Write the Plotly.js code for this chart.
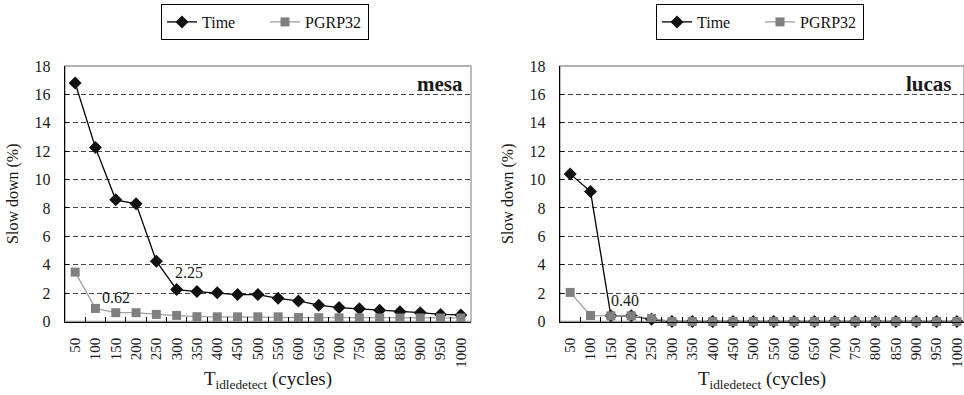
<!DOCTYPE html>
<html><head><meta charset="utf-8">
<script src="https://cdn.plot.ly/plotly-3.0.1.min.js"></script>
<style>body{margin:0;background:#fff}#c{width:964px;height:395px}</style>
</head><body><div id="c"></div>
<script>
const categories = ['50','100','150','200','250','300','350','400','450','500','550','600','650','700','750','800','850','900','950','1000'];
const mesaTime   = [16.8,12.25,8.57,8.29,4.25,2.25,2.11,2.02,1.9,1.9,1.63,1.45,1.15,0.98,0.9,0.8,0.69,0.62,0.5,0.46];
const mesaPGRP   = [3.48,0.92,0.62,0.62,0.5,0.43,0.34,0.33,0.33,0.33,0.33,0.28,0.27,0.26,0.26,0.25,0.25,0.25,0.25,0.25];
const lucasTime  = [10.4,9.15,0.40,0.40,0.15,0,0,0,0,0,0,0,0,0,0,0,0,0,0,0];
const lucasPGRP  = [2.05,0.42,0.40,0.40,0.22,0,0,0,0,0,0,0,0,0,0,0,0,0,0,0];
const seriesNames = ['Time','PGRP32'];
const panelNames = ['mesa','lucas'];

const FONT = 'Liberation Serif';
const TXT = '#1a1a1a';
const W = 964, H = 395;
const yDom = [(H-321.5)/H, (H-66)/H];

function mk(name, x, y, xa, ya, leg, black) {
  return {
    type:'scatter', mode:'lines+markers', name, x, y, xaxis:xa, yaxis:ya, legend:leg,
    line: black ? {color:'#000', width:1.3} : {color:'#a0a0a0', width:1.3},
    marker: black ? {symbol:'diamond', size:10, color:'#111'} : {symbol:'square', size:9, color:'#808080'},
    cliponaxis:false
  };
}
const data = [
  mk(seriesNames[0], categories, mesaTime, 'x', 'y', 'legend', true),
  mk(seriesNames[1], categories, mesaPGRP, 'x', 'y', 'legend', false),
  mk(seriesNames[0], categories, lucasTime, 'x2', 'y2', 'legend2', true),
  mk(seriesNames[1], categories, lucasPGRP, 'x2', 'y2', 'legend2', false)
];
function xax(dom, range) {
  return {domain:dom, type:'category', range:range, showline:true, linecolor:'#000', linewidth:1.3,
    ticks:'inside', ticklen:5, tickcolor:'#000', tickson:'boundaries', tickangle:-90,
    ticklabelstandoff:9, showgrid:false, zeroline:false, fixedrange:true,
    tickfont:{family:FONT, size:15, color:TXT},
    title:{text:'T<sub>idledetect</sub> (cycles)', font:{family:FONT, size:19, color:TXT}, standoff:5}};
}
function yax(anchor) {
  return {domain:yDom, anchor:anchor, range:[0,18], dtick:2, showline:true, linecolor:'#000', linewidth:1.3,
    ticks:'inside', ticklen:4, tickcolor:'#000', ticklabelstandoff:10,
    showgrid:true, gridcolor:'#444', gridwidth:1, griddash:'5px,3px', zeroline:false, fixedrange:true,
    tickfont:{family:FONT, size:16, color:TXT},
    title:{text:'Slow down (%)', font:{family:FONT, size:16, color:TXT}, standoff:12}};
}
const leftDom = [65/W, 471/W];
const rightDom = [560/W, 1];
const lab = {family:FONT, size:16, color:TXT};
const legendBase = {orientation:'h', xanchor:'left', y:1-4/H, yanchor:'top', bordercolor:'#000', borderwidth:1,
    entrywidth:58, font:{family:FONT, size:16, color:'#111'}, bgcolor:'#fff'};
const layout = {
  width:W, height:H, margin:{l:0,r:0,t:0,b:0}, paper_bgcolor:'#fff', plot_bgcolor:'#fff',
  font:{family:FONT, color:TXT}, showlegend:true,
  xaxis: Object.assign(xax(leftDom, [-0.5,19.5]), {anchor:'y'}),
  yaxis: yax('x'),
  xaxis2: Object.assign(xax(rightDom, [-0.5,19.35]), {anchor:'y2'}),
  yaxis2: yax('x2'),
  legend: Object.assign({}, legendBase, {x:161/W}),
  legend2: Object.assign({}, legendBase, {x:656/W}),
  shapes: [
    {type:'rect', xref:'x domain', yref:'y domain', x0:0, x1:1, y0:0, y1:1, line:{color:'#999', width:1.3}, layer:'below'},
    {type:'rect', xref:'x2 domain', yref:'y2 domain', x0:0, x1:1, y0:0, y1:1, line:{color:'#999', width:1.3}, layer:'below'}
  ],
  annotations: [
    {xref:'x domain', yref:'y domain', x:0.985, y:0.985, xanchor:'right', yanchor:'top', showarrow:false,
     text:'<b>'+panelNames[0]+'</b>', font:{family:FONT, size:21, color:TXT}},
    {xref:'x2 domain', yref:'y2 domain', x:0.975, y:0.985, xanchor:'right', yanchor:'top', showarrow:false,
     text:'<b>'+panelNames[1]+'</b>', font:{family:FONT, size:21, color:TXT}},
    {xref:'x', yref:'y', x:5, y:mesaTime[5], text:mesaTime[5].toFixed(2), showarrow:false,
     xanchor:'center', yanchor:'bottom', xshift:12, yshift:7, font:lab},
    {xref:'x', yref:'y', x:2, y:mesaPGRP[2], text:mesaPGRP[2].toFixed(2), showarrow:false,
     xanchor:'center', yanchor:'bottom', xshift:0, yshift:5, font:lab},
    {xref:'x2', yref:'y2', x:2, y:lucasPGRP[2], text:lucasPGRP[2].toFixed(2), showarrow:false,
     xanchor:'left', yanchor:'bottom', xshift:-2, yshift:5, font:lab}
  ]
};
Plotly.newPlot('c', data, layout, {staticPlot:true, displayModeBar:false});
</script></body></html>
